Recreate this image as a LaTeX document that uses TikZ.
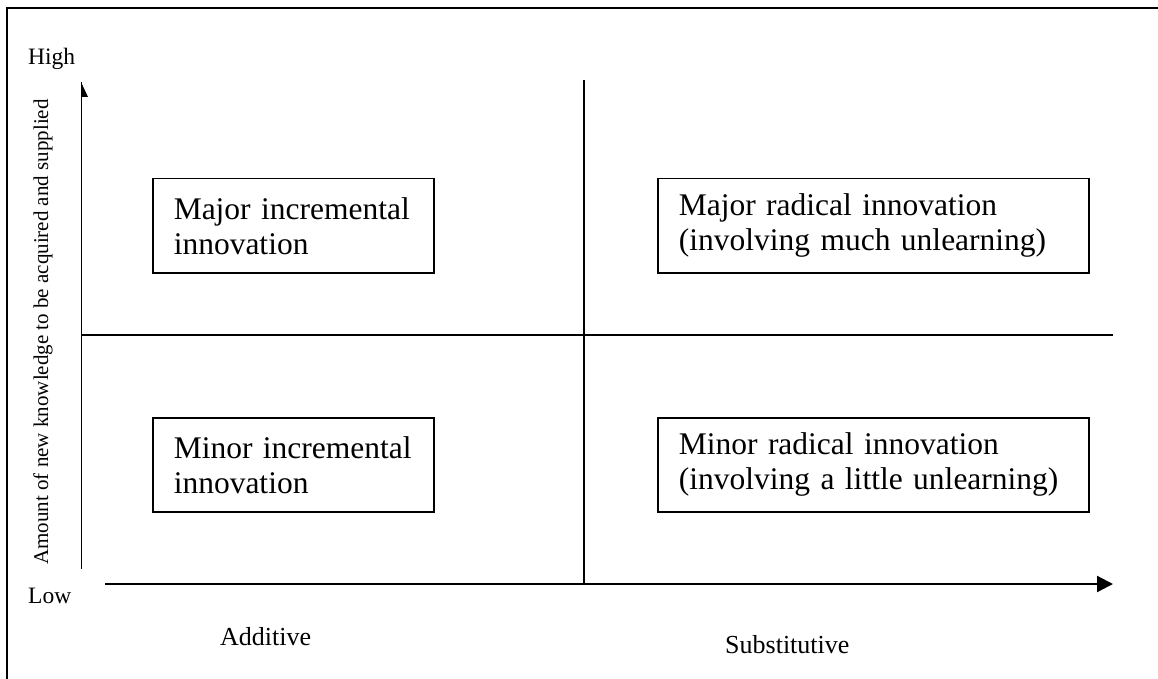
\documentclass[tikz,border=0pt]{standalone}
\usepackage{fontspec}
\setmainfont{Liberation Serif}
\usetikzlibrary{arrows.meta}
\begin{document}
\begin{tikzpicture}[x=1pt,y=-1pt,
  quadbox/.style={draw,line width=1.5pt,anchor=north west,minimum height=94pt,
    inner xsep=21pt,inner ysep=0pt,align=left,font=\fontsize{31.5}{35}\selectfont},
  axislabel/.style={anchor=base west,inner sep=0pt,font=\fontsize{23.5}{26}\selectfont},
  catlabel/.style={anchor=base west,inner sep=0pt,font=\fontsize{26}{29}\selectfont},
  divider/.style={line width=1.5pt},
  frameline/.style={line width=1.8pt}]
\useasboundingbox (0,0) rectangle (1158,679);
% frame
\coordinate (ftl) at (7,8);
\coordinate (ftr) at (1158,8);
\coordinate (fbl) at (7,679);
\draw[frameline] (fbl) -- (ftl) -- (ftr);
% axes
\coordinate (vb) at (81,569);
\coordinate (vt) at (81,82);
\draw[line width=1pt] (vb) -- (vt);
\fill (vt) -- (88,97) -- (81,97) -- cycle;
\coordinate (hl) at (105,584);
\coordinate (hr) at (1113,584);
\draw[line width=2.2pt,-{Triangle[length=16pt,width=16pt]}] (hl) -- (hr);
% dividers
\coordinate (dt) at (584,80);
\coordinate (db) at (584,584);
\draw[divider] (dt) -- (db);
\coordinate (ml) at (81,335);
\coordinate (mr) at (1113,335);
\draw[divider] (ml) -- (mr);
% boxes
\node[quadbox,minimum width=281pt,text width=239pt] (tl) at (152,178) {Major incremental\\innovation};
\node[quadbox,minimum width=431pt,text width=389pt] (tr) at (657,178) {Major radical innovation\\(involving much unlearning)};
\node[quadbox,minimum width=281pt,text width=239pt] (bl) at (152,417) {Minor incremental\\innovation};
\node[quadbox,minimum width=431pt,text width=389pt] (br) at (657,417) {Minor radical innovation\\(involving a little unlearning)};
% labels
\node[axislabel] (high) at (28,65) {High};
\node[axislabel] (low) at (28,603) {Low};
\node[catlabel] (add) at (220,645) {Additive};
\node[catlabel] (sub) at (725,653) {Substitutive};
\node[anchor=base,inner sep=0pt,rotate=90,font=\fontsize{21}{24}\selectfont] (ylab) at (48,332) {Amount of new knowledge to be acquired and supplied};
\end{tikzpicture}
\end{document}
